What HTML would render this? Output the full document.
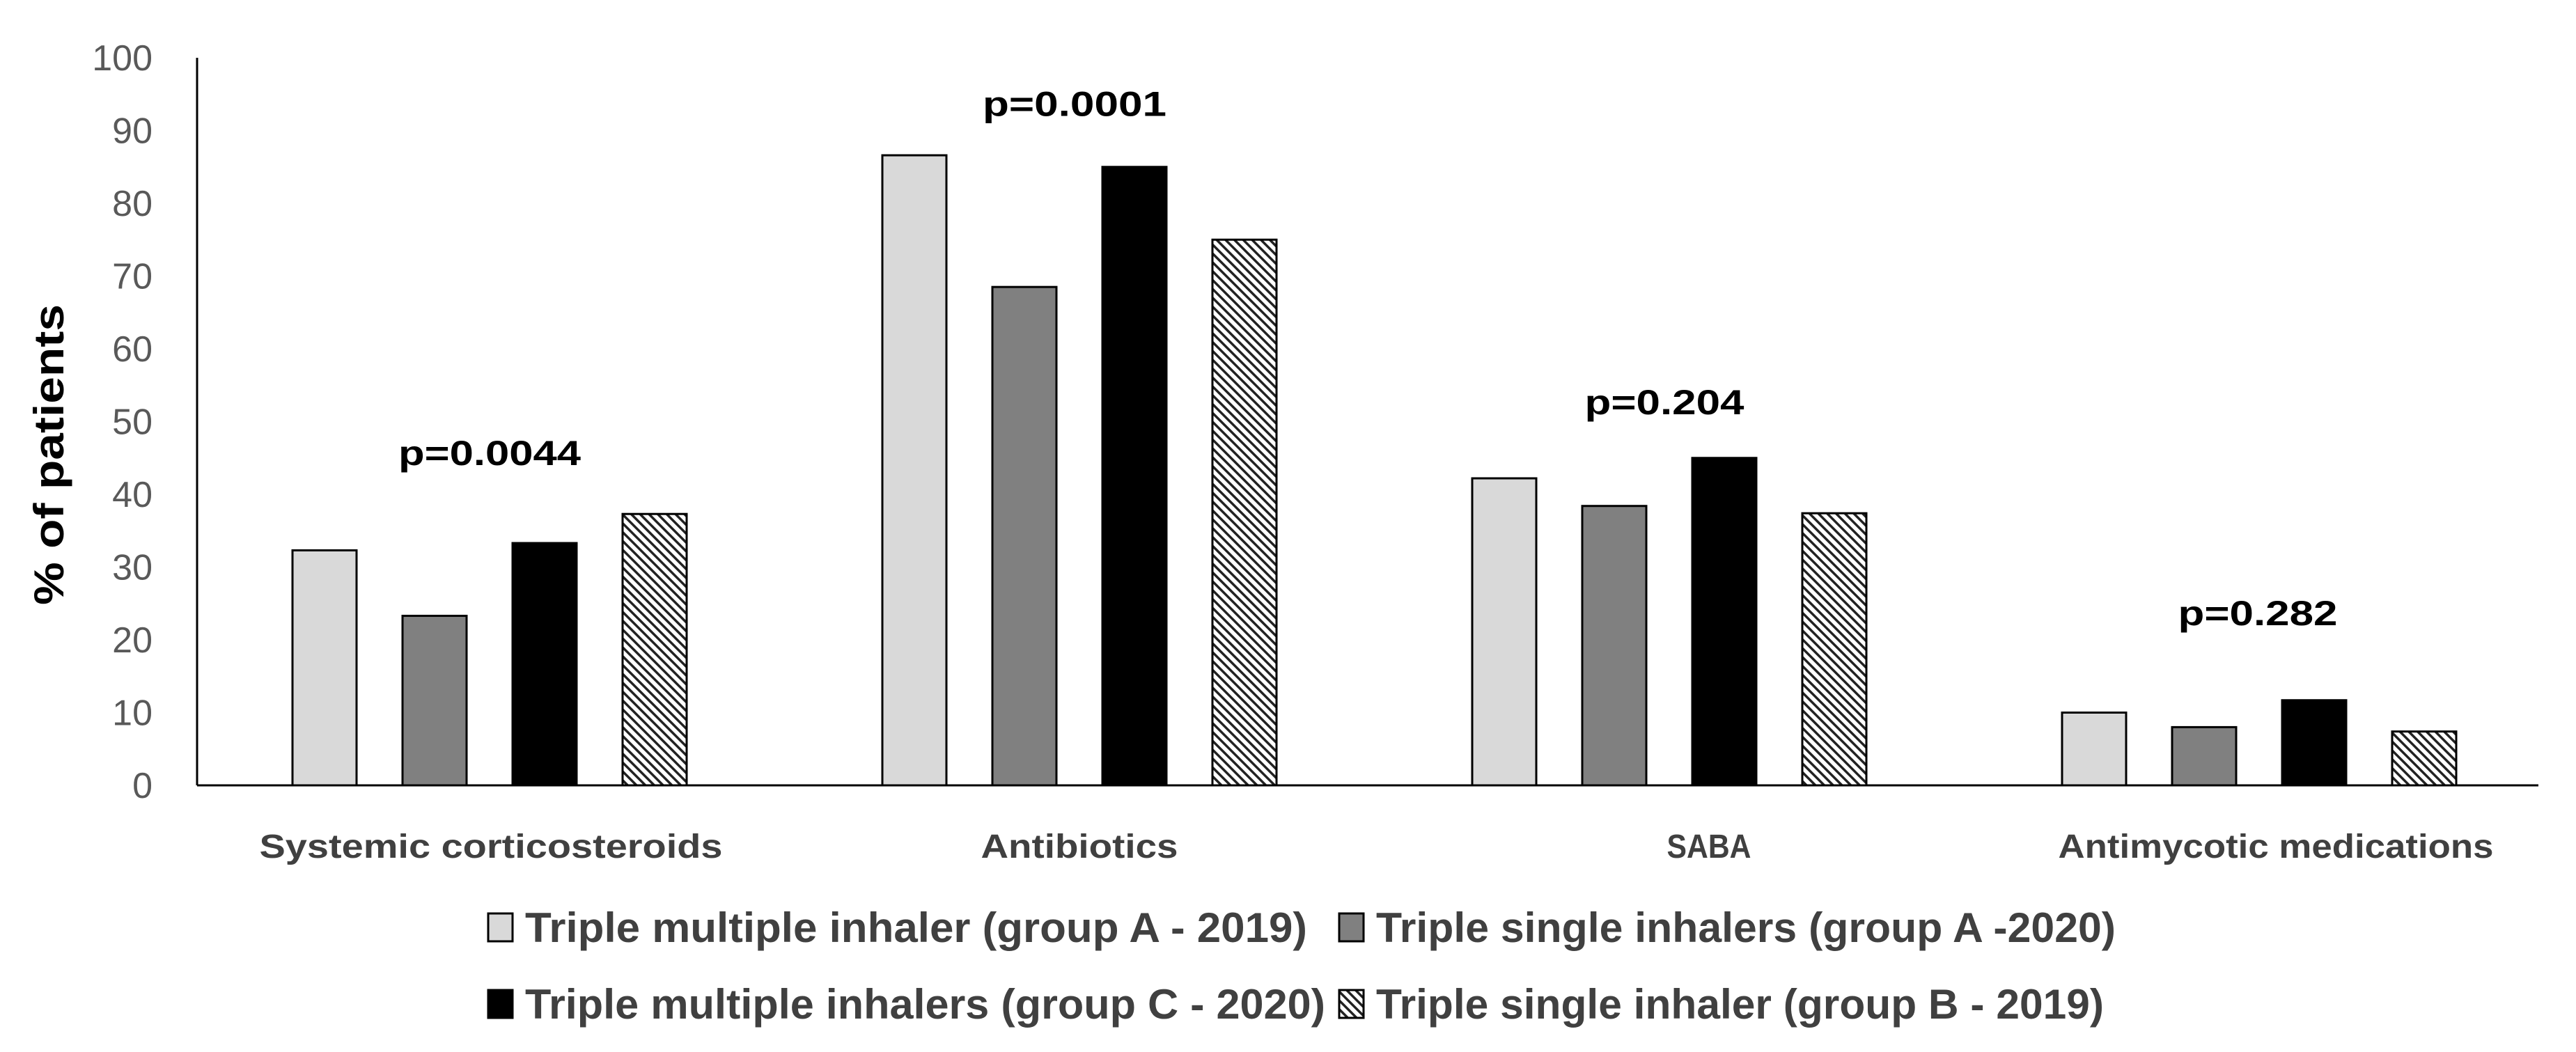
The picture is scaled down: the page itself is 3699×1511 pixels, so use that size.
<!DOCTYPE html>
<html><head><meta charset="utf-8"><style>
html,body{margin:0;padding:0;background:#fff;}
svg{display:block;font-family:"Liberation Sans",sans-serif;}
</style></head><body>
<svg id="chart" width="3699" height="1511" viewBox="0 0 3699 1511" xmlns="http://www.w3.org/2000/svg">
<defs>
<pattern id="hatch" patternUnits="userSpaceOnUse" width="9" height="9" patternTransform="rotate(-45)">
<rect width="9" height="9" fill="#fff"/><rect x="0" y="0" width="3.5" height="9" fill="#222"/>
</pattern>
</defs>
<g id="plot"></g>
</svg>
<script>
const categories = ["Systemic corticosteroids","Antibiotics","SABA","Antimycotic medications"];
const seriesNames = ["Triple multiple inhaler (group A - 2019)","Triple single inhalers (group A -2020)","Triple multiple inhalers (group C - 2020)","Triple single inhaler (group B - 2019)"];
const groupA2019 = [32.3, 86.6, 42.2, 10];
const groupA2020 = [23.3, 68.5, 38.4, 8];
const groupC2020 = [33.3, 85, 45, 11.7];
const groupB2019 = [37.3, 75, 37.4, 7.4];
const pValues = ["p=0.0044","p=0.0001","p=0.204","p=0.282"];
const pLevels = [44, 92, 51, 22];
const yTicks = [0,10,20,30,40,50,60,70,80,90,100];

const NS="http://www.w3.org/2000/svg";
const g=document.getElementById('plot');
const x0=283, x1=3645, yTop=83, yZero=1128;
const catW=847;
const y=v=>yZero-(v/100)*(yZero-yTop);
const catX=i=>x0+catW*i;
function mk(tag,attrs,parent){const e=document.createElementNS(NS,tag);for(const k in attrs)e.setAttribute(k,attrs[k]);(parent||g).appendChild(e);return e;}

yTicks.forEach(t=>{
  const tx=mk('text',{x:x0-64,y:y(t)+18,'text-anchor':'end','font-size':52,fill:'#595959'});
  tx.textContent=t;
  
  
});
const yt=mk('text',{x:0,y:0,'font-size':60,'font-weight':'bold',fill:'#000','text-anchor':'middle',transform:'translate(91,653) rotate(-90)',textLength:432,lengthAdjust:'spacingAndGlyphs'});
yt.textContent='% of patients';



const series=[groupA2019,groupA2020,groupC2020,groupB2019];
const fills=['#d9d9d9','#808080','#000','url(#hatch)'];
const barW=92, step=158, off=137;
const groupCenter=i=>catX(i)+off+(3*step+barW)/2;
series.forEach((vals,s)=>{
  vals.forEach((v,i)=>{
    const bx=catX(i)+off+s*step;
    const r=mk('rect',{x:bx,y:y(v),width:barW,height:yZero-y(v),fill:fills[s],stroke:'#000','stroke-width':3});
    
    
  });
});
const ax=mk('line',{x1:x0,y1:yTop,x2:x0,y2:yZero,stroke:'#000','stroke-width':3});


const bx=mk('line',{x1:x0,y1:yZero,x2:x1,y2:yZero,stroke:'#000','stroke-width':3});



const labelShift=[2,0,57,24];
const labelLen=[665,283,121,625];
categories.forEach((c,i)=>{
  const t=mk('text',{x:groupCenter(i)+labelShift[i],y:1232,'text-anchor':'middle','font-size':48,'font-weight':'bold',fill:'#404040',textLength:labelLen[i],lengthAdjust:'spacingAndGlyphs'});
  t.textContent=c;
  
  
});
const pLen=[262,264,229,229];
const pShift=[0,-7,-7,-2];
pValues.forEach((p,i)=>{
  const t=mk('text',{x:groupCenter(i)+pShift[i],y:y(pLevels[i]),'text-anchor':'middle','font-size':50,'font-weight':'bold',fill:'#000',textLength:pLen[i],lengthAdjust:'spacingAndGlyphs'});
  t.textContent=p;
  
  
});

const legX=[701,1923,701,1923], legY=[1332,1332,1442,1442], legLen=[1123,1062,1149,1045];
seriesNames.forEach((n,s)=>{
  const sq=mk('rect',{x:legX[s],y:legY[s]-20,width:35,height:40,fill:fills[s],stroke:'#000','stroke-width':3});
  
  
  const t=mk('text',{x:legX[s]+53,y:legY[s]+21,'font-size':60,'font-weight':'bold',fill:'#404040',textLength:legLen[s],lengthAdjust:'spacingAndGlyphs'});
  t.textContent=n;
  
  
});
</script>
</body></html>
